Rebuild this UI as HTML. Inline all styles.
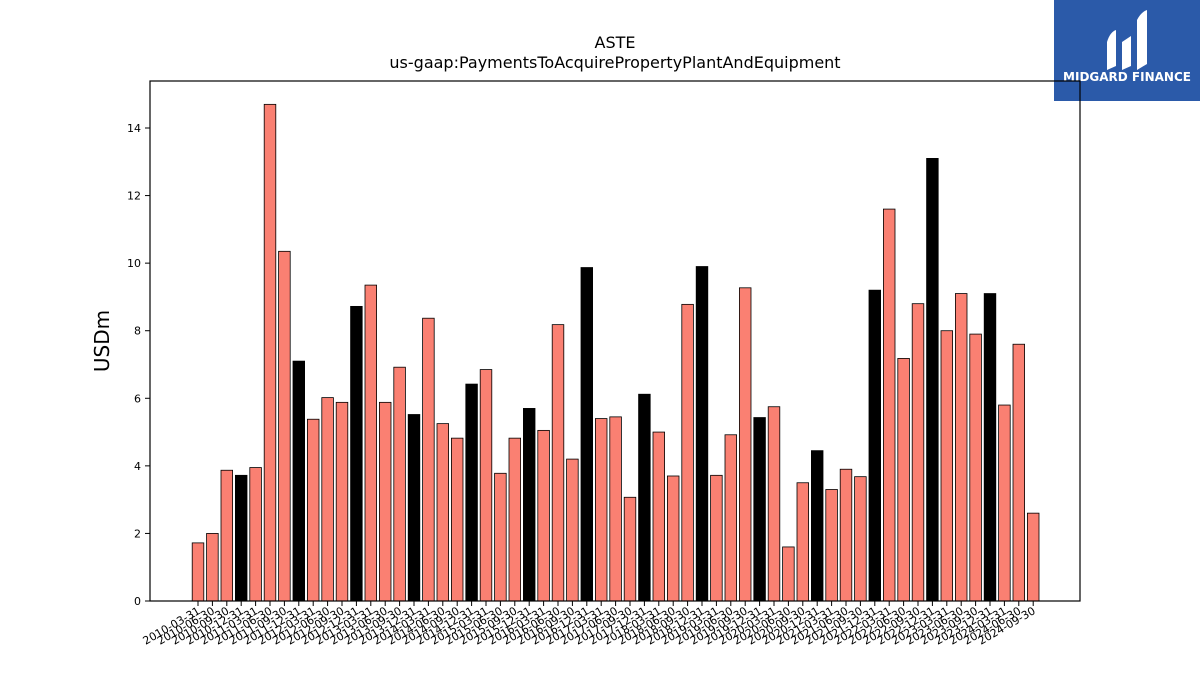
<!DOCTYPE html>
<html><head><meta charset="utf-8"><style>
body{margin:0;background:#fff;font-family:"Liberation Sans","DejaVu Sans",sans-serif}
svg text{font-family:"DejaVu Sans","Liberation Sans",sans-serif}
</style></head><body>
<svg id="c" width="1200" height="675">
<rect x="1054" y="0" width="146" height="101" fill="#2b5aa9"/>
<g fill="#fff">
<path d="M1107 70 L1107 42 Q1110 32 1116 30 L1116 66 Z"/>
<path d="M1122 70 L1122 42 L1131 36 L1131 66 Z"/>
<path d="M1137 70 L1137 20 Q1141 12 1147 10 L1147 64 Z"/>
</g>
<text x="1127" y="81" fill="#fff" font-size="12" font-weight="bold" text-anchor="middle">MIDGARD FINANCE</text>
<text x="615" y="48" font-size="16" text-anchor="middle">ASTE</text>
<text x="615" y="68" font-size="16" text-anchor="middle">us-gaap:PaymentsToAcquirePropertyPlantAndEquipment</text>
<text transform="translate(109,341) rotate(-90)" font-size="20" text-anchor="middle">USDm</text>
<g id="bars"></g><g id="axes"></g>
</svg>
<script>
const categories=[];
for(let y=2010;y<=2024;y++){for(const q of ["03-31","06-30","09-30","12-31"]){if(y===2024&&q==="12-31")break;categories.push(y+"-"+q);}}
const values=[1.72,2.0,3.87,3.72,3.95,14.7,10.35,7.1,5.38,6.02,5.88,8.72,9.35,5.88,6.92,5.52,8.37,5.25,4.82,6.42,6.85,3.78,4.82,5.7,5.05,8.18,4.2,9.87,5.4,5.45,3.07,6.12,5.0,3.7,8.78,9.9,3.72,4.92,9.27,5.43,5.75,1.6,3.5,4.45,3.3,3.9,3.68,9.2,11.6,7.18,8.8,13.1,8.0,9.1,7.9,9.1,5.8,7.6,2.6];
const yTicks=[0,2,4,6,8,10,12,14];
const NS="http://www.w3.org/2000/svg";
const L=150,R=1080,T=81,B=601;
const y=v=>B-v*(601-128)/14;
const step=14.4,x0=198;
const x=i=>x0+i*step;
const bars=document.getElementById('bars'),axes=document.getElementById('axes');
function mk(t,a,p){const e=document.createElementNS(NS,t);for(const k in a)e.setAttribute(k,a[k]);p.appendChild(e);return e;}
values.forEach((v,i)=>{
 const r=mk('rect',{x:x(i)-5.8,y:y(v),width:11.6,height:B-y(v),fill:categories[i].endsWith("12-31")?"#000":"#fa8072",stroke:"#000","stroke-width":0.8},bars);
 
 
 const tk=mk('line',{x1:x(i),x2:x(i),y1:B,y2:B+5,stroke:"#000"},axes);
 
 
 const tx=mk('text',{transform:`translate(${x(i)+3},${B+12}) rotate(-30)`,"font-size":11,"text-anchor":"end"},axes);
 tx.textContent=categories[i];
 
 
});
yTicks.forEach(t=>{
 const l=mk('line',{x1:L-5,x2:L,y1:y(t),y2:y(t),stroke:"#000"},axes);
 
 
 const tx=mk('text',{x:L-9,y:y(t)+4,"font-size":11,"text-anchor":"end"},axes);
 tx.textContent=t;
 
 
});
const f=mk('rect',{x:L,y:T,width:R-L,height:B-T,fill:"none",stroke:"#000","stroke-width":1.2},axes);


</script>
</body></html>
